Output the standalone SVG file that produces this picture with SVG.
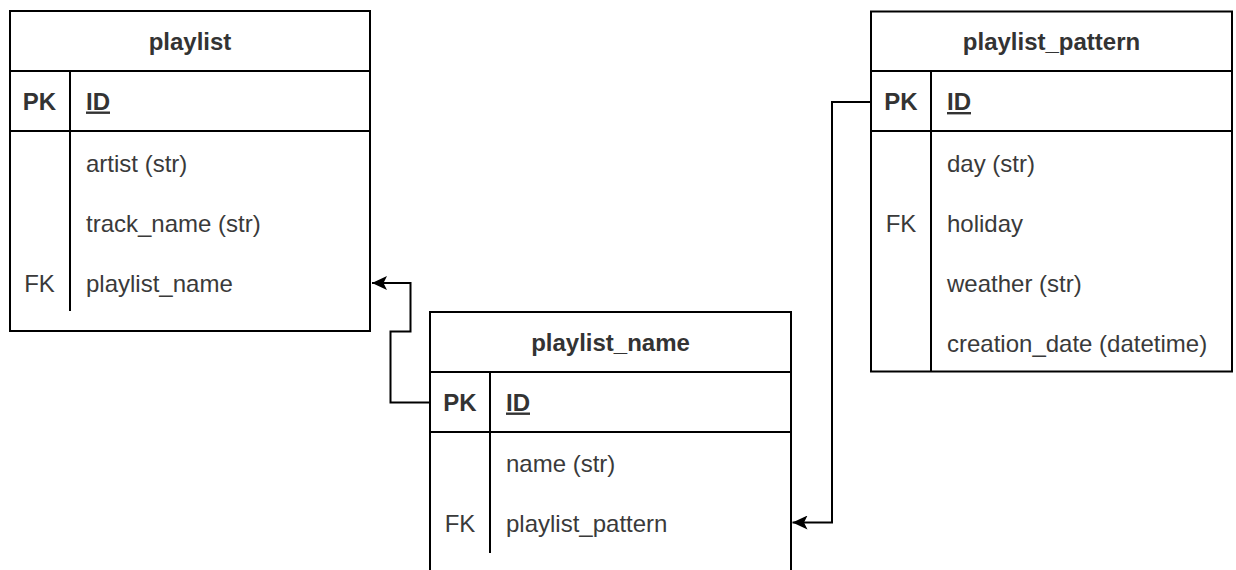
<svg xmlns="http://www.w3.org/2000/svg" width="1236" height="570" viewBox="0 0 1236 570">
<defs>
<style>
.box{fill:#fff;stroke:#000;stroke-width:2}
.ln{stroke:#000;stroke-width:2;fill:none}
.t{font-family:"Liberation Sans",Arial,sans-serif;font-size:24px;fill:#3a3a3a}
.h{font-weight:bold;fill:#333;text-anchor:middle}
.k{text-anchor:middle}
.pk{font-weight:bold;fill:#333}
.u{text-decoration:underline}
.edge{stroke:#000;stroke-width:2;fill:none}
</style>
<marker id="arr" viewBox="0 0 16 14" refX="15" refY="7" markerWidth="16" markerHeight="14" markerUnits="userSpaceOnUse" orient="auto">
<path d="M15,7 L0,0 L3.5,7 L0,14 Z" fill="#000"/>
</marker>
</defs>
<rect width="1236" height="570" fill="#fff"/>

<g id="playlist">
<rect class="box" x="10" y="11" width="360" height="320"/>
<line class="ln" x1="10" y1="71" x2="370" y2="71"/>
<line class="ln" x1="10" y1="131" x2="370" y2="131"/>
<line class="ln" x1="70" y1="71" x2="70" y2="311"/>
<text class="t h" x="190" y="49.5">playlist</text>
<text class="t k pk" x="39.5" y="109.5">PK</text>
<text class="t pk u" x="86" y="109.5">ID</text>
<text class="t" x="86" y="171.5">artist (str)</text>
<text class="t" x="86" y="231.5">track_name (str)</text>
<text class="t k" x="39.5" y="291.5">FK</text>
<text class="t" x="86" y="291.5">playlist_name</text>
</g>

<g id="playlist_name">
<path class="box" d="M430,575 V312 H791 V575"/>
<line class="ln" x1="430" y1="372" x2="791" y2="372"/>
<line class="ln" x1="430" y1="432" x2="791" y2="432"/>
<line class="ln" x1="490" y1="372" x2="490" y2="553"/>
<text class="t h" x="610.5" y="350.5">playlist_name</text>
<text class="t k pk" x="460" y="410.5">PK</text>
<text class="t pk u" x="506" y="410.5">ID</text>
<text class="t" x="506" y="471.5">name (str)</text>
<text class="t k" x="460" y="531.5">FK</text>
<text class="t" x="506" y="531.5">playlist_pattern</text>
</g>

<g id="playlist_pattern">
<rect class="box" x="871" y="11.5" width="361" height="360"/>
<line class="ln" x1="871" y1="71" x2="1232" y2="71"/>
<line class="ln" x1="871" y1="131" x2="1232" y2="131"/>
<line class="ln" x1="931" y1="71" x2="931" y2="371.5"/>
<text class="t h" x="1051.5" y="49.5">playlist_pattern</text>
<text class="t k pk" x="901" y="110">PK</text>
<text class="t pk u" x="947" y="110">ID</text>
<text class="t" x="947" y="171.5">day (str)</text>
<text class="t k" x="901" y="231.5">FK</text>
<text class="t" x="947" y="231.5">holiday</text>
<text class="t" x="947" y="291.5">weather (str)</text>
<text class="t" x="947" y="351.5">creation_date (datetime)</text>
</g>

<g id="connectors">
<path class="edge" d="M430,402.5 H390.5 V331.5 H410.5 V283 H372" marker-end="url(#arr)"/>
<path class="edge" d="M871,102 H832 V522.5 H792.5" marker-end="url(#arr)"/>
</g>
</svg>
